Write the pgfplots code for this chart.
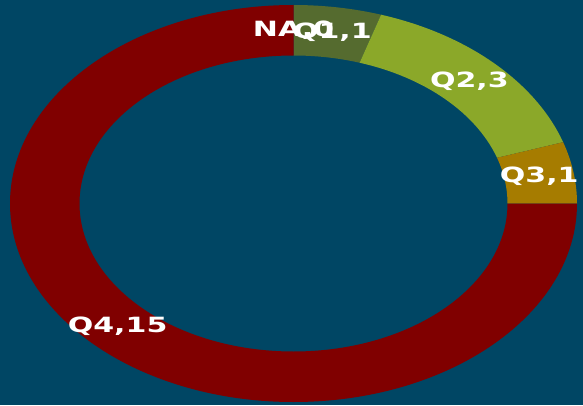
\documentclass[border=0pt]{standalone}
\usepackage{pgfplots}
\pgfplotsset{compat=1.18}
\usepackage{pgfplotstable}
\usepackage{fontspec}
\setmainfont{DejaVu Sans}
\definecolor{bgcol}{HTML}{004664}
\definecolor{pie0}{HTML}{800000}
\definecolor{pie1}{HTML}{556B2F}
\definecolor{pie2}{HTML}{8BA829}
\definecolor{pie3}{HTML}{A67C00}
\definecolor{pie4}{HTML}{800000}
\begin{document}
\begin{tikzpicture}
\pgfplotstableread{
label value
NA 0
Q1 1
Q2 3
Q3 1
Q4 15
}\piedata
\gdef\cum{0}
\foreach \i in {0,...,4}{
  \pgfplotstablegetelem{\i}{value}\of\piedata
  \pgfmathsetmacro\tmp{\cum+\pgfplotsretval}
  \xdef\cum{\tmp}
}
\xdef\pietotal{\cum}
\gdef\cum{0}
\foreach \i in {0,...,4}{
  \pgfplotstablegetelem{\i}{value}\of\piedata
  \xdef\curval{\pgfplotsretval}
  \pgfmathsetmacro\a{90-360*\cum/\pietotal}
  \pgfmathsetmacro\tmp{\cum+\curval}
  \xdef\cum{\tmp}
  \pgfmathsetmacro\b{90-360*\cum/\pietotal}
  \pgfmathsetmacro\m{(\a+\b)/2}
  \pgfmathtruncatemacro\vi{\curval}
  \pgfplotstablegetelem{\i}{label}\of\piedata
  \expandafter\xdef\csname pieA\i\endcsname{\a}
  \expandafter\xdef\csname pieB\i\endcsname{\b}
  \expandafter\xdef\csname pieM\i\endcsname{\m}
  \expandafter\xdef\csname pieL\i\endcsname{\pgfplotsretval,\vi}
}
\begin{axis}[
  scale only axis, width=583pt, height=405pt,
  xmin=0, xmax=583, ymin=0, ymax=405,
  hide axis,
]
\fill[bgcol] (axis cs:0,0) rectangle (axis cs:583,405);
\pgfplotsinvokeforeach{0,...,4}{
  \fill[pie#1] (axis cs:293.5,201.5) ++(\csname pieA#1\endcsname:283.5pt and 198.5pt)
    arc[start angle=\csname pieA#1\endcsname, end angle=\csname pieB#1\endcsname, x radius=283.5pt, y radius=198.5pt]
    -- ++(\csname pieB#1\endcsname:-69.5pt and -50.5pt)
    arc[start angle=\csname pieB#1\endcsname, end angle=\csname pieA#1\endcsname, x radius=214pt, y radius=148pt]
    -- cycle;
}
\pgfplotsinvokeforeach{0,...,4}{
  \path (axis cs:293.5,201.5) ++(\csname pieM#1\endcsname:248.75pt and 173.25pt)
    node[text=white, inner sep=0pt, font=\fontsize{21}{21}\selectfont\bfseries]
    {\scalebox{1.43}[1]{\csname pieL#1\endcsname}};
}
\end{axis}
\end{tikzpicture}
\end{document}
